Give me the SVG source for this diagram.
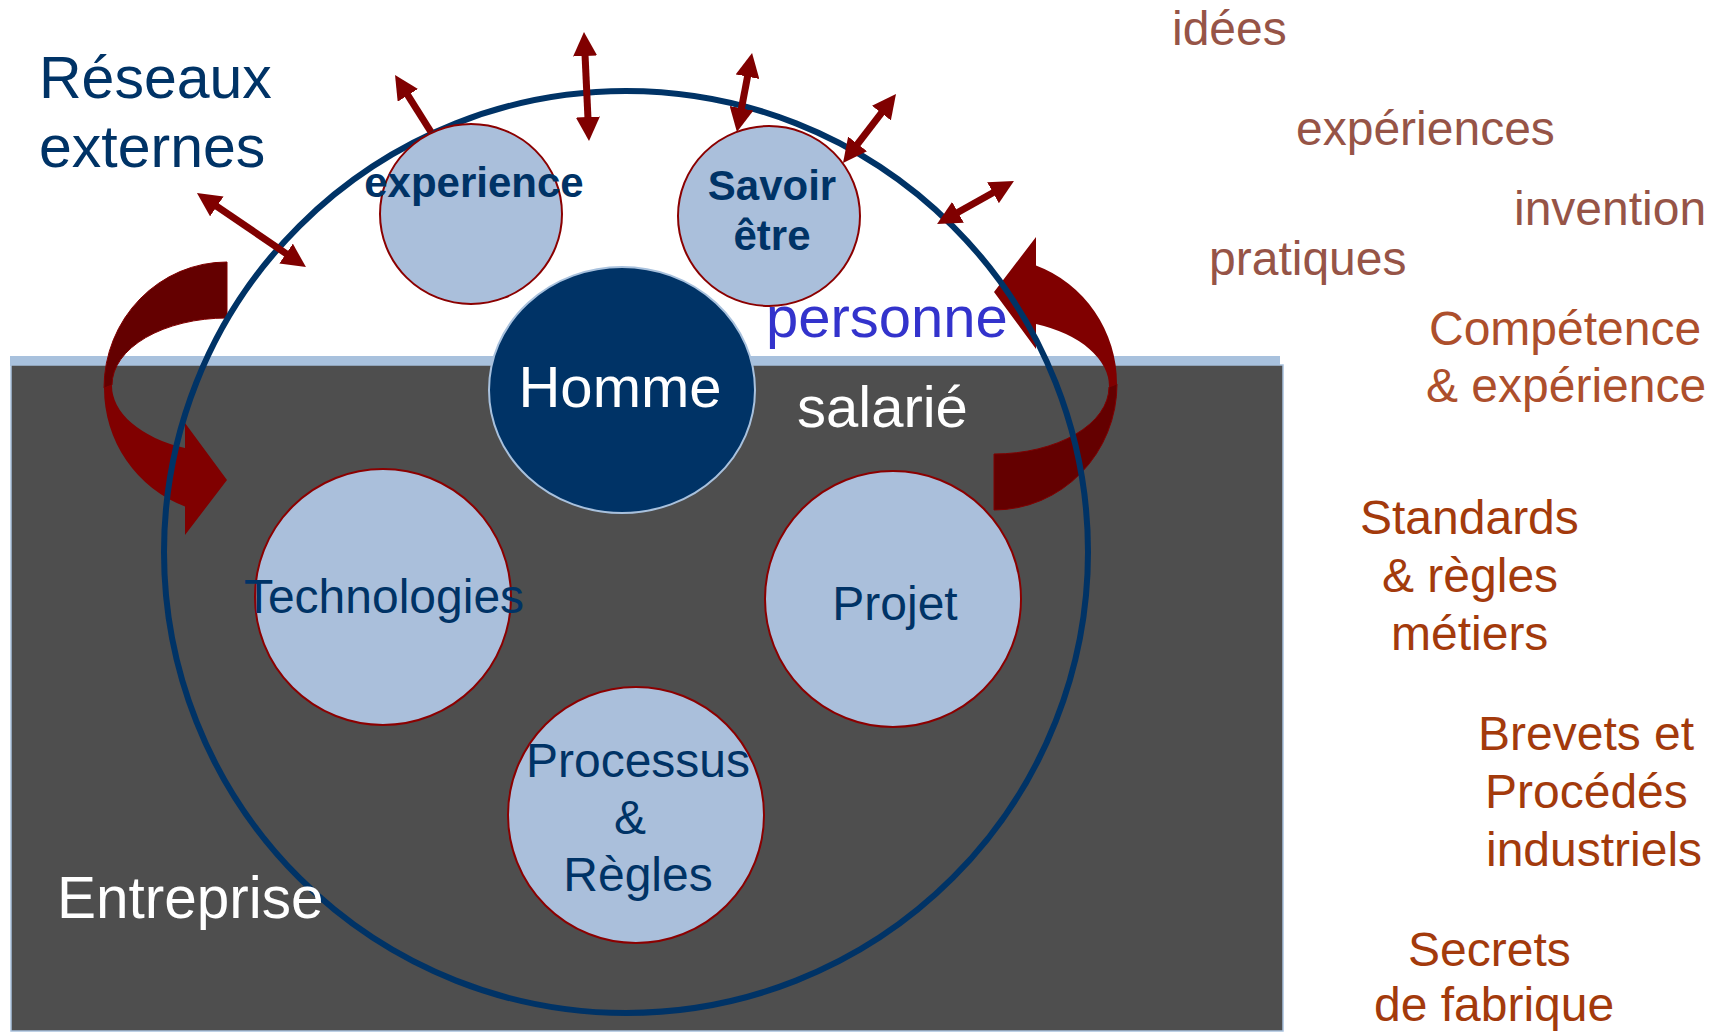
<svg xmlns="http://www.w3.org/2000/svg" width="1719" height="1032" viewBox="0 0 1719 1032">
<style>
  .t { font-family: "Liberation Sans", Arial, sans-serif; }
  .navy { fill: #003366; }
  .node { fill: #aabfdb; stroke: #8b0000; stroke-width: 2; }
  .lbl { font-size: 48px; fill: #003366; text-anchor: middle; }
  .bold { font-weight: bold; font-size: 42px; fill: #003366; text-anchor: middle; }
  .big { font-size: 58px; }
  .brown { font-size: 48px; fill: #965447; }
  .rust { font-size: 48px; fill: #ad4f2c; }
  .rust2 { font-size: 48px; fill: #a33a0c; }
  .arr { stroke: #800000; stroke-width: 7; fill: none; }
</style>
<defs>
  <marker id="ah" viewBox="0 -12 24 24" refX="4" refY="0" markerWidth="24" markerHeight="24" markerUnits="userSpaceOnUse" orient="auto-start-reverse">
    <path d="M0,-12 L24,0 L0,12 z" fill="#800000"/>
  </marker>
  <g id="curved">
    <path d="M227,262 A123,126 0 0 0 104,388 L112,385 A115,67 0 0 1 227,318 Z" fill="#640000" stroke="#800000" stroke-width="1"/>
    <path d="M104,388 A123,126 0 0 0 185,506.4 L185,535 L227,480 L185,423 L185,448 A115,67 0 0 1 112,385 Z" fill="#800000"/>
  </g>
</defs>
<rect width="1719" height="1032" fill="#ffffff"/>
<g id="background">
  <rect x="10" y="356" width="1270" height="10" fill="#a8c1dd"/>
  <rect x="11" y="365" width="1272" height="666" fill="#4e4e4e" stroke="#a8c1dd" stroke-width="1.5"/>
</g>
<g id="flows">
  <use href="#curved"/>
  <use href="#curved" transform="rotate(180 610.5 386)"/>
</g>
<g id="boundary">
  <ellipse cx="626" cy="552" rx="462" ry="461" fill="none" stroke="#003366" stroke-width="6"/>
</g>
<g id="node-homme">
  <ellipse cx="622" cy="390" rx="133" ry="123" fill="#003366" stroke="#a8c1dd" stroke-width="2"/>
  <text class="t big" x="620" y="407" fill="#ffffff" text-anchor="middle">Homme</text>
</g>
<g id="node-experience">
  <ellipse class="node" cx="471" cy="214" rx="91" ry="90"/>
  <text class="t bold" x="474" y="197">experience</text>
</g>
<g id="node-savoir">
  <ellipse class="node" cx="769" cy="216" rx="91" ry="90"/>
  <text class="t bold" x="772" y="200">Savoir</text>
  <text class="t bold" x="772" y="250">être</text>
</g>
<g id="node-technologies">
  <circle class="node" cx="383" cy="597" r="128"/>
  <text class="t lbl" x="384" y="613" font-size="49">Technologies</text>
</g>
<g id="node-projet">
  <circle class="node" cx="893" cy="599" r="128"/>
  <text class="t lbl" x="895" y="620">Projet</text>
</g>
<g id="node-processus">
  <circle class="node" cx="636" cy="815" r="128"/>
  <text class="t lbl" x="638" y="777">Processus</text>
  <text class="t lbl" x="630" y="834">&amp;</text>
  <text class="t lbl" x="638" y="891">Règles</text>
</g>
<g id="connectors">
  <line class="arr" x1="213.5" y1="204.2" x2="289.4" y2="255.8" marker-start="url(#ah)" marker-end="url(#ah)"/>
  <line class="arr" x1="431" y1="132" x2="405.7" y2="91.9" marker-end="url(#ah)"/>
  <line class="arr" x1="584.9" y1="52" x2="588.1" y2="121" marker-start="url(#ah)" marker-end="url(#ah)"/>
  <line class="arr" x1="748.3" y1="72.7" x2="740.7" y2="112.3" marker-start="url(#ah)" marker-end="url(#ah)"/>
  <line class="arr" x1="883.8" y1="109.9" x2="855.2" y2="147.1" marker-start="url(#ah)" marker-end="url(#ah)"/>
  <line class="arr" x1="996.5" y1="190.8" x2="954.5" y2="214.3" marker-start="url(#ah)" marker-end="url(#ah)"/>
</g>
<g id="labels">
  <text class="t navy" x="39" y="98" font-size="59">Réseaux</text>
  <text class="t navy" x="39" y="167" font-size="59">externes</text>
  <text class="t big" x="766" y="337" fill="#3333cc">personne</text>
  <text class="t" x="797" y="427" font-size="58" fill="#ffffff">salarié</text>
  <text class="t" x="57" y="918" font-size="58.5" fill="#ffffff">Entreprise</text>
</g>
<g id="side-texts">
  <text class="t brown" x="1172" y="45">idées</text>
  <text class="t brown" x="1296" y="145">expériences</text>
  <text class="t brown" x="1514" y="225">invention</text>
  <text class="t brown" x="1209" y="275">pratiques</text>
  <text class="t rust" x="1429" y="345">Compétence</text>
  <text class="t rust" x="1426" y="402">&amp; expérience</text>
  <text class="t rust2" x="1360" y="534">Standards</text>
  <text class="t rust2" x="1382" y="592">&amp; règles</text>
  <text class="t rust2" x="1391" y="650">métiers</text>
  <text class="t rust2" x="1478" y="750">Brevets et</text>
  <text class="t rust2" x="1485" y="808">Procédés</text>
  <text class="t rust2" x="1486" y="866">industriels</text>
  <text class="t rust2" x="1408" y="966">Secrets</text>
  <text class="t rust2" x="1374" y="1021">de fabrique</text>
</g>
</svg>
